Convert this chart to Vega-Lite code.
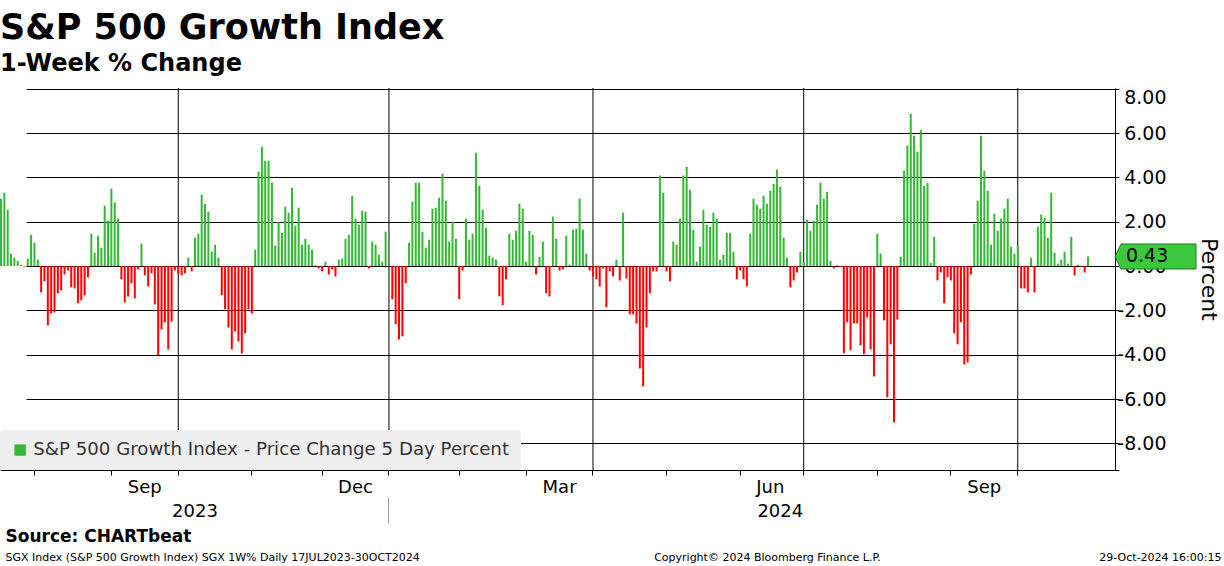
{
  "$schema": "https://vega.github.io/schema/vega-lite/v6.json",
  "width": 1115,
  "height": 382,
  "autosize": {"type": "none"},
  "padding": {"left": 0, "top": 88, "right": 109, "bottom": 96},
  "background": "white",
  "title": {
    "text": "S&P 500 Growth Index",
    "subtitle": "1-Week % Change",
    "anchor": "start",
    "frame": "group",
    "font": "DejaVu Sans",
    "fontSize": 35,
    "fontWeight": "bold",
    "color": "black",
    "subtitleFont": "DejaVu Sans",
    "subtitleFontSize": 24,
    "subtitleFontWeight": "bold",
    "subtitleColor": "black",
    "subtitlePadding": 6,
    "offset": 12
  },
  "config": {
    "font": "DejaVu Sans",
    "view": {"stroke": null},
    "axis": {"labelFont": "DejaVu Sans", "titleFont": "DejaVu Sans"}
  },
  "datasets": {
    "bars": [
      {"d":"2023-07-17","v":3.04},{"d":"2023-07-18","v":3.31},{"d":"2023-07-19","v":2.54},{"d":"2023-07-20","v":0.56},{"d":"2023-07-21","v":0.38},{"d":"2023-07-24","v":0.24},{"d":"2023-07-25","v":0.06},{"d":"2023-07-26","v":-0.03},{"d":"2023-07-27","v":0.33},{"d":"2023-07-28","v":1.41},{"d":"2023-07-31","v":1.05},
      {"d":"2023-08-01","v":0.29},{"d":"2023-08-02","v":-1.19},{"d":"2023-08-03","v":-0.69},{"d":"2023-08-04","v":-2.68},{"d":"2023-08-07","v":-2.14},{"d":"2023-08-08","v":-2.09},{"d":"2023-08-09","v":-1.23},{"d":"2023-08-10","v":-1.10},{"d":"2023-08-11","v":-0.38},{"d":"2023-08-14","v":-0.20},{"d":"2023-08-15","v":-0.96},{"d":"2023-08-16","v":-1.01},{"d":"2023-08-17","v":-1.68},{"d":"2023-08-18","v":-1.55},{"d":"2023-08-21","v":-1.32},{"d":"2023-08-22","v":-0.51},{"d":"2023-08-23","v":1.46},{"d":"2023-08-24","v":0.60},{"d":"2023-08-25","v":1.37},{"d":"2023-08-28","v":0.83},{"d":"2023-08-29","v":2.72},{"d":"2023-08-30","v":2.05},{"d":"2023-08-31","v":3.49},
      {"d":"2023-09-01","v":2.86},{"d":"2023-09-05","v":2.14},{"d":"2023-09-06","v":-0.60},{"d":"2023-09-07","v":-1.64},{"d":"2023-09-08","v":-1.37},{"d":"2023-09-11","v":-0.78},{"d":"2023-09-12","v":-1.46},{"d":"2023-09-13","v":-0.15},{"d":"2023-09-14","v":1.01},{"d":"2023-09-15","v":-0.42},{"d":"2023-09-18","v":-0.92},{"d":"2023-09-19","v":-0.33},{"d":"2023-09-20","v":-1.73},{"d":"2023-09-21","v":-4.02},{"d":"2023-09-22","v":-2.86},{"d":"2023-09-25","v":-2.54},{"d":"2023-09-26","v":-3.76},{"d":"2023-09-27","v":-2.50},{"d":"2023-09-28","v":-0.20},{"d":"2023-09-29","v":-0.36},
      {"d":"2023-10-02","v":-0.42},{"d":"2023-10-03","v":-0.33},{"d":"2023-10-04","v":0.38},{"d":"2023-10-05","v":-0.24},{"d":"2023-10-06","v":1.28},{"d":"2023-10-09","v":1.46},{"d":"2023-10-10","v":3.22},{"d":"2023-10-11","v":2.81},{"d":"2023-10-12","v":2.45},{"d":"2023-10-13","v":0.65},{"d":"2023-10-16","v":0.96},{"d":"2023-10-17","v":0.38},{"d":"2023-10-18","v":-1.32},{"d":"2023-10-19","v":-1.95},{"d":"2023-10-20","v":-2.77},{"d":"2023-10-23","v":-3.76},{"d":"2023-10-24","v":-2.95},{"d":"2023-10-25","v":-3.40},{"d":"2023-10-26","v":-3.94},{"d":"2023-10-27","v":-3.04},{"d":"2023-10-30","v":-1.95},{"d":"2023-10-31","v":-2.14},
      {"d":"2023-11-01","v":0.74},{"d":"2023-11-02","v":4.26},{"d":"2023-11-03","v":5.38},{"d":"2023-11-06","v":4.75},{"d":"2023-11-07","v":4.75},{"d":"2023-11-08","v":3.76},{"d":"2023-11-09","v":0.92},{"d":"2023-11-10","v":1.98},{"d":"2023-11-13","v":1.50},{"d":"2023-11-14","v":2.68},{"d":"2023-11-15","v":2.41},{"d":"2023-11-16","v":3.53},{"d":"2023-11-17","v":1.82},{"d":"2023-11-20","v":2.63},{"d":"2023-11-21","v":0.96},{"d":"2023-11-22","v":1.23},{"d":"2023-11-24","v":0.96},{"d":"2023-11-27","v":0.74},{"d":"2023-11-28","v":0.03},{"d":"2023-11-29","v":-0.11},{"d":"2023-11-30","v":-0.24},
      {"d":"2023-12-01","v":0.20},{"d":"2023-12-04","v":-0.38},{"d":"2023-12-05","v":-0.15},{"d":"2023-12-06","v":-0.47},{"d":"2023-12-07","v":0.29},{"d":"2023-12-08","v":0.33},{"d":"2023-12-11","v":1.23},{"d":"2023-12-12","v":1.41},{"d":"2023-12-13","v":3.17},{"d":"2023-12-14","v":2.14},{"d":"2023-12-15","v":1.86},{"d":"2023-12-18","v":2.50},{"d":"2023-12-19","v":2.45},{"d":"2023-12-20","v":-0.11},{"d":"2023-12-21","v":1.10},{"d":"2023-12-22","v":0.96},{"d":"2023-12-26","v":0.51},{"d":"2023-12-27","v":0.20},{"d":"2023-12-28","v":1.55},{"d":"2023-12-29","v":0.03},
      {"d":"2024-01-02","v":-1.50},{"d":"2024-01-03","v":-2.63},{"d":"2024-01-04","v":-3.31},{"d":"2024-01-05","v":-3.17},{"d":"2024-01-08","v":-0.78},{"d":"2024-01-09","v":1.05},{"d":"2024-01-10","v":2.90},{"d":"2024-01-11","v":3.76},{"d":"2024-01-12","v":3.76},{"d":"2024-01-16","v":1.55},{"d":"2024-01-17","v":0.83},{"d":"2024-01-18","v":1.19},{"d":"2024-01-19","v":2.59},{"d":"2024-01-22","v":2.63},{"d":"2024-01-23","v":3.08},{"d":"2024-01-24","v":4.17},{"d":"2024-01-25","v":2.95},{"d":"2024-01-26","v":1.10},{"d":"2024-01-29","v":2.00},{"d":"2024-01-30","v":1.23},{"d":"2024-01-31","v":-1.50},
      {"d":"2024-02-01","v":-0.20},{"d":"2024-02-02","v":2.14},{"d":"2024-02-05","v":1.19},{"d":"2024-02-06","v":1.46},{"d":"2024-02-07","v":5.11},{"d":"2024-02-08","v":3.62},{"d":"2024-02-09","v":2.54},{"d":"2024-02-12","v":1.73},{"d":"2024-02-13","v":0.47},{"d":"2024-02-14","v":0.38},{"d":"2024-02-15","v":0.29},{"d":"2024-02-16","v":-1.37},{"d":"2024-02-20","v":-1.77},{"d":"2024-02-21","v":-0.60},{"d":"2024-02-22","v":1.46},{"d":"2024-02-23","v":1.19},{"d":"2024-02-26","v":1.59},{"d":"2024-02-27","v":2.81},{"d":"2024-02-28","v":2.59},{"d":"2024-02-29","v":0.20},
      {"d":"2024-03-01","v":1.59},{"d":"2024-03-04","v":1.41},{"d":"2024-03-05","v":-0.38},{"d":"2024-03-06","v":0.42},{"d":"2024-03-07","v":1.10},{"d":"2024-03-08","v":-1.23},{"d":"2024-03-11","v":-1.37},{"d":"2024-03-12","v":2.23},{"d":"2024-03-13","v":1.23},{"d":"2024-03-14","v":-0.20},{"d":"2024-03-15","v":-0.15},{"d":"2024-03-18","v":1.37},{"d":"2024-03-19","v":0.06},{"d":"2024-03-20","v":1.64},{"d":"2024-03-21","v":1.68},{"d":"2024-03-22","v":3.04},{"d":"2024-03-25","v":1.64},{"d":"2024-03-26","v":0.56},{"d":"2024-03-27","v":-0.20},{"d":"2024-03-28","v":-0.47},
      {"d":"2024-04-01","v":-0.60},{"d":"2024-04-02","v":-0.92},{"d":"2024-04-03","v":-0.11},{"d":"2024-04-04","v":-1.86},{"d":"2024-04-05","v":-0.24},{"d":"2024-04-08","v":-0.47},{"d":"2024-04-09","v":0.29},{"d":"2024-04-10","v":-0.65},{"d":"2024-04-11","v":2.41},{"d":"2024-04-12","v":-0.56},{"d":"2024-04-15","v":-2.18},{"d":"2024-04-16","v":-2.18},{"d":"2024-04-17","v":-2.59},{"d":"2024-04-18","v":-4.62},{"d":"2024-04-19","v":-5.43},{"d":"2024-04-22","v":-2.77},{"d":"2024-04-23","v":-1.23},{"d":"2024-04-24","v":-0.24},{"d":"2024-04-25","v":-0.24},{"d":"2024-04-26","v":4.08},{"d":"2024-04-29","v":3.31},{"d":"2024-04-30","v":-0.24},
      {"d":"2024-05-01","v":-0.69},{"d":"2024-05-02","v":1.10},{"d":"2024-05-03","v":0.96},{"d":"2024-05-06","v":2.14},{"d":"2024-05-07","v":4.08},{"d":"2024-05-08","v":4.48},{"d":"2024-05-09","v":3.44},{"d":"2024-05-10","v":1.64},{"d":"2024-05-13","v":0.20},{"d":"2024-05-14","v":0.87},{"d":"2024-05-15","v":2.54},{"d":"2024-05-16","v":1.86},{"d":"2024-05-17","v":1.77},{"d":"2024-05-20","v":2.41},{"d":"2024-05-21","v":2.14},{"d":"2024-05-22","v":0.29},{"d":"2024-05-23","v":0.51},{"d":"2024-05-24","v":1.50},{"d":"2024-05-28","v":1.50},{"d":"2024-05-29","v":0.65},{"d":"2024-05-30","v":-0.60},{"d":"2024-05-31","v":-0.20},
      {"d":"2024-06-03","v":-0.60},{"d":"2024-06-04","v":-0.92},{"d":"2024-06-05","v":1.46},{"d":"2024-06-06","v":3.04},{"d":"2024-06-07","v":2.77},{"d":"2024-06-10","v":2.59},{"d":"2024-06-11","v":3.17},{"d":"2024-06-12","v":2.81},{"d":"2024-06-13","v":3.40},{"d":"2024-06-14","v":3.71},{"d":"2024-06-17","v":4.35},{"d":"2024-06-18","v":3.58},{"d":"2024-06-20","v":1.28},{"d":"2024-06-21","v":0.38},{"d":"2024-06-24","v":-0.96},{"d":"2024-06-25","v":-0.65},{"d":"2024-06-26","v":-0.29},{"d":"2024-06-27","v":0.65},{"d":"2024-06-28","v":0.15},
      {"d":"2024-07-01","v":2.09},{"d":"2024-07-02","v":1.59},{"d":"2024-07-03","v":2.05},{"d":"2024-07-05","v":2.77},{"d":"2024-07-08","v":3.76},{"d":"2024-07-09","v":3.04},{"d":"2024-07-10","v":3.35},{"d":"2024-07-11","v":0.24},{"d":"2024-07-12","v":-0.11},{"d":"2024-07-15","v":0.03},{"d":"2024-07-16","v":-0.04},{"d":"2024-07-17","v":-3.94},{"d":"2024-07-18","v":-2.54},{"d":"2024-07-19","v":-3.80},{"d":"2024-07-22","v":-2.59},{"d":"2024-07-23","v":-2.59},{"d":"2024-07-24","v":-3.58},{"d":"2024-07-25","v":-3.98},{"d":"2024-07-26","v":-2.32},{"d":"2024-07-29","v":-3.76},{"d":"2024-07-30","v":-4.98},{"d":"2024-07-31","v":1.46},
      {"d":"2024-08-01","v":0.56},{"d":"2024-08-02","v":-2.45},{"d":"2024-08-05","v":-5.92},{"d":"2024-08-06","v":-3.53},{"d":"2024-08-07","v":-7.05},{"d":"2024-08-08","v":-2.41},{"d":"2024-08-09","v":0.42},{"d":"2024-08-12","v":4.30},{"d":"2024-08-13","v":5.43},{"d":"2024-08-14","v":6.87},{"d":"2024-08-15","v":5.88},{"d":"2024-08-16","v":5.16},{"d":"2024-08-19","v":6.15},{"d":"2024-08-20","v":3.62},{"d":"2024-08-21","v":3.76},{"d":"2024-08-22","v":0.15},{"d":"2024-08-23","v":1.32},{"d":"2024-08-26","v":-0.65},{"d":"2024-08-27","v":-0.29},{"d":"2024-08-28","v":-1.68},{"d":"2024-08-29","v":-0.51},{"d":"2024-08-30","v":-0.65},
      {"d":"2024-09-03","v":-3.04},{"d":"2024-09-04","v":-3.53},{"d":"2024-09-05","v":-2.54},{"d":"2024-09-06","v":-4.44},{"d":"2024-09-09","v":-4.35},{"d":"2024-09-10","v":-0.38},{"d":"2024-09-11","v":1.91},{"d":"2024-09-12","v":2.95},{"d":"2024-09-13","v":5.88},{"d":"2024-09-16","v":4.30},{"d":"2024-09-17","v":3.40},{"d":"2024-09-18","v":0.96},{"d":"2024-09-19","v":2.36},{"d":"2024-09-20","v":1.59},{"d":"2024-09-23","v":2.14},{"d":"2024-09-24","v":2.59},{"d":"2024-09-25","v":3.04},{"d":"2024-09-26","v":0.87},{"d":"2024-09-27","v":0.56},{"d":"2024-09-30","v":0.87},
      {"d":"2024-10-01","v":-1.01},{"d":"2024-10-02","v":-1.01},{"d":"2024-10-03","v":-1.19},{"d":"2024-10-04","v":0.38},{"d":"2024-10-07","v":-1.19},{"d":"2024-10-08","v":1.77},{"d":"2024-10-09","v":2.32},{"d":"2024-10-10","v":2.18},{"d":"2024-10-11","v":1.28},{"d":"2024-10-14","v":3.31},{"d":"2024-10-15","v":0.60},{"d":"2024-10-16","v":0.11},{"d":"2024-10-17","v":0.29},{"d":"2024-10-18","v":0.65},{"d":"2024-10-21","v":0.11},{"d":"2024-10-22","v":1.32},{"d":"2024-10-23","v":-0.42},{"d":"2024-10-24","v":0.06},{"d":"2024-10-25","v":-0.02},{"d":"2024-10-28","v":-0.29},{"d":"2024-10-29","v":0.43}
    ],
    "quarters": [
      {"d":"2023-09-29"},{"d":"2023-12-29"},{"d":"2024-03-28"},{"d":"2024-06-28"},{"d":"2024-09-30"}
    ]
  },
  "resolve": {"axis": {"x": "independent"}},
  "layer": [
    {
      "data": {"name": "quarters"},
      "mark": {"type": "rule", "color": "black", "strokeWidth": 1},
      "encoding": {
        "x": {
          "field": "d", "type": "ordinal",
          "axis": {
            "orient": "bottom",
            "values": ["2023-09-15", "2023-12-14", "2024-03-14", "2024-06-13", "2024-09-16"],
            "labelExpr": "utcFormat(toDate(datum.value), '%b')",
            "ticks": false, "tickSize": 0, "domain": false, "grid": false,
            "labelAngle": 0, "labelPadding": 8, "labelFontSize": 18, "labelColor": "black",
            "title": "Source: CHARTbeat", "titleX": 5, "titleY": 66, "titleAlign": "left", "titleBaseline": "middle",
            "titleFontSize": 17, "titleFontWeight": "bold", "titleColor": "black", "titleLimit": 0
          }
        }
      }
    },
    {
      "data": {"name": "bars"},
      "mark": {"type": "bar"},
      "encoding": {
        "x": {
          "field": "d", "type": "ordinal",
          "scale": {"paddingInner": 0.4, "paddingOuter": 0, "align": 0, "range": [0, 1089]},
          "axis": {
            "orient": "bottom",
            "values": ["2023-07-31","2023-08-31","2023-09-29","2023-10-31","2023-11-30","2023-12-29","2024-01-31","2024-02-29","2024-03-28","2024-04-30","2024-05-31","2024-06-28","2024-07-31","2024-08-30","2024-09-30"],
            "labels": false, "ticks": true, "tickSize": 5, "tickColor": "black",
            "domain": true, "domainColor": "black", "domainWidth": 1, "grid": false,
            "title": "SGX Index (S&P 500 Growth Index) SGX 1W%  Daily 17JUL2023-30OCT2024",
            "titleX": 5, "titleY": 87, "titleAlign": "left", "titleBaseline": "middle",
            "titleFontSize": 11, "titleFontWeight": "normal", "titleColor": "black", "titleLimit": 0
          }
        },
        "y": {
          "field": "v", "type": "quantitative",
          "scale": {"domain": [-9.2, 8.03], "nice": false, "zero": false},
          "axis": {
            "orient": "right",
            "values": [-9.2, -8, -6, -4, -2, 0, 2, 4, 6, 8],
            "labelExpr": "datum.value < -9 ? '' : replace(format(datum.value, '.2f'), '\u2212', '-')",
            "grid": true, "gridColor": "black", "gridWidth": 1, "gridOpacity": 1,
            "domain": true, "domainColor": "black", "domainWidth": 1,
            "ticks": true, "tickColor": "black", "tickSize": 4,
            "labelAlign": "right", "labelPadding": 47, "labelFontSize": 19, "labelColor": "black", "labelFlush": 3,
            "title": "Percent", "titleFontSize": 22, "titleFontWeight": "normal", "titleColor": "black",
            "titleAngle": 90, "titleX": 93, "titleY": 191, "titleAlign": "center", "titleBaseline": "middle",
            "zindex": 0
          }
        },
        "color": {
          "condition": {"test": "datum.v < 0", "value": "#ff0000"},
          "datum": "S&P 500 Growth Index - Price Change 5 Day Percent",
          "type": "nominal",
          "scale": {"range": ["#33b933"]},
          "legend": {
            "orient": "bottom-left", "offset": 0, "title": null, "padding": 11,
            "fillColor": "#efefef", "cornerRadius": 3,
            "labelFontSize": 18.2, "labelColor": "#333333", "labelFont": "DejaVu Sans", "labelLimit": 0, "labelOffset": 4,
            "symbolType": "square", "symbolSize": 130, "symbolStrokeWidth": 0
          }
        }
      }
    },
    {
      "data": {"name": "bars"},
      "transform": [{"filter": "datum.d == '2024-10-29'"}],
      "mark": {
        "type": "point",
        "shape": "M27,0L33,-12.5L108,-12.5L108,12.5L33,12.5Z",
        "size": 4, "filled": true, "fill": "#3cc83c", "stroke": "#1e7a1e", "strokeWidth": 1, "opacity": 1
      },
      "encoding": {
        "x": {
          "field": "d", "type": "ordinal",
          "axis": {
            "orient": "bottom",
            "values": ["2023-10-06", "2024-06-18"],
            "labelExpr": "utcFormat(toDate(datum.value), '%Y')",
            "ticks": false, "tickSize": 0, "domain": false, "grid": false,
            "labelAngle": 0, "labelPadding": 32, "labelFontSize": 18, "labelColor": "black",
            "title": "Copyright\u00a9 2024 Bloomberg Finance L.P.",
            "titleX": 767, "titleY": 87, "titleAlign": "center", "titleBaseline": "middle",
            "titleFontSize": 11, "titleFontWeight": "normal", "titleColor": "black", "titleLimit": 0
          }
        },
        "y": {"field": "v", "type": "quantitative"}
      }
    },
    {
      "data": {"name": "bars"},
      "transform": [{"filter": "datum.d == '2024-10-29'"}],
      "mark": {"type": "text", "align": "left", "baseline": "middle", "dx": 38, "fontSize": 19, "color": "black"},
      "encoding": {
        "x": {
          "field": "d", "type": "ordinal",
          "axis": {
            "orient": "bottom",
            "values": ["2023-12-29"],
            "labels": false, "ticks": true, "tickSize": 26, "tickColor": "#999999",
            "domain": false, "grid": false, "offset": 27,
            "title": "29-Oct-2024 16:00:15",
            "titleX": 1221, "titleY": 60, "titleAlign": "right", "titleBaseline": "middle",
            "titleFontSize": 11, "titleFontWeight": "normal", "titleColor": "black", "titleLimit": 0
          }
        },
        "y": {"field": "v", "type": "quantitative"},
        "text": {"field": "v", "type": "quantitative", "format": ".2f"}
      }
    }
  ]
}
